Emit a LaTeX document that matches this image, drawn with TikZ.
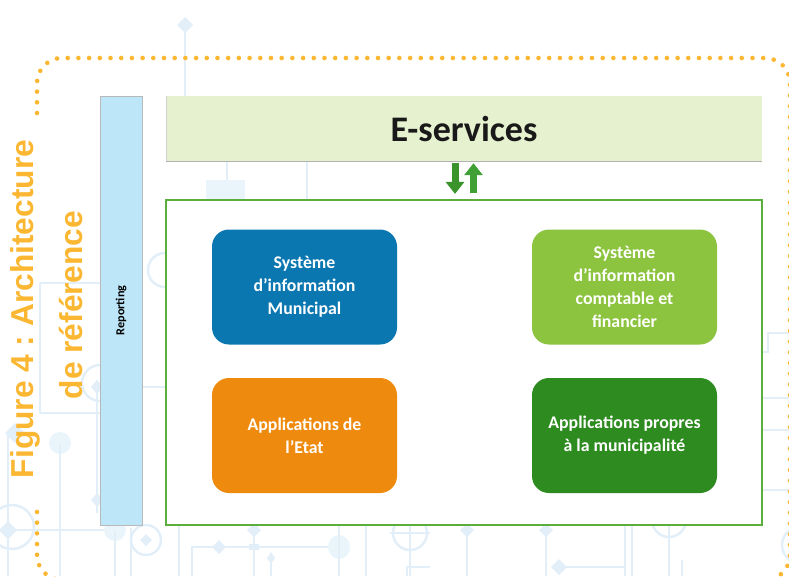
\documentclass[tikz,border=0pt]{standalone}
\usepackage{fontspec}
\setmainfont{Carlito}
\newfontfamily\titlefont{Liberation Sans}
\usetikzlibrary{arrows.meta}
\frenchspacing
\definecolor{titleorange}{HTML}{FBB731}
\definecolor{bgline}{HTML}{E2EFF9}
\definecolor{bgfill}{HTML}{EAF4FB}
\definecolor{repblue}{HTML}{BDE7F8}
\definecolor{eservgreen}{HTML}{E6F2CF}
\definecolor{framegreen}{HTML}{5CAE3C}
\definecolor{boxblue}{HTML}{0B77B1}
\definecolor{boxlight}{HTML}{8CC43F}
\definecolor{boxorange}{HTML}{EE8A0D}
\definecolor{boxdark}{HTML}{2E8B20}
\definecolor{arrowdown}{HTML}{3B932B}
\definecolor{arrowup}{HTML}{41A035}
\tikzset{
  circ/.style={draw=bgline, line width=2.5pt},
  circfill/.style={fill=bgfill},
  diam/.style={fill=bgline},
  appbox/.style={rounded corners=17pt, minimum width=185pt, minimum height=115pt,
    inner sep=0pt, text=white, align=center,
    font=\fontsize{17.8}{23}\selectfont\bfseries},
  dotborder/.style={draw=titleorange, line width=4.6pt, line cap=round,
    dash pattern=on 0pt off 10.7pt, rounded corners=25pt},
  blockarrow/.style={line width=7pt, -{Triangle[width=18pt,length=12pt]}},
}
\begin{document}
\begin{tikzpicture}[x=1pt,y=-1pt]
\useasboundingbox (0,0) rectangle (789,576);
\begin{scope}
\clip (0,0) rectangle (789,576);
% faint circuit background
\draw[circ] (185,30) -- (185,96);
\fill[diam] (185,17) -- (193,25) -- (185,33) -- (177,25) -- cycle;
\draw[circ] (227,161) -- (227,180);
\fill[circfill] (206,180) rectangle (245,199);
\draw[circ] (307,161) -- (307,200);
\draw[circ] (165,270) circle (17);
\draw[circ] (40,283) -- (40,413);
\draw[circ] (40,283) -- (100,283);
\draw[circ] (40,413) -- (100,413);
\draw[circ] (100,383) circle (18);
\draw[circ] (97,380) -- (97,513);
\fill[diam] (97,380) -- (103,387) -- (97,394) -- (91,387) -- cycle;
\fill[diam] (97,493) -- (103,500) -- (97,507) -- (91,500) -- cycle;
\draw[circ] (8,433) -- (8,576);
\fill[diam] (15,423) -- (25,433) -- (15,443) -- (5,433) -- cycle;
\fill[circfill] (60,443) circle (11);
\draw[circ] (60,443) -- (60,576);
\draw[circ] (12,527) circle (22);
\draw[circ] (0,530) -- (110,530);
\fill[diam] (8,521) -- (17,530) -- (8,539) -- (-1,530) -- cycle;
\fill[circfill] (115,530) circle (11);
\draw[circ] (115,530) -- (115,576);
\draw[circ] (131,528) -- (131,576);
\draw[circ] (146,540) circle (15);
\fill[diam] (146,534) -- (152,540) -- (146,546) -- (140,540) -- cycle;
\draw[circ] (142,387) -- (166,387);
\draw[circ] (179,525) -- (179,576);
\draw[circ] (192,576) -- (192,547) -- (339,547);
\fill[diam] (219,540) -- (226,547) -- (219,554) -- (212,547) -- cycle;
\draw[circ] (254,525) -- (254,576);
\fill[diam] (254,523) -- (261,530) -- (254,537) -- (247,530) -- cycle;
\fill[diam] (249,544) rectangle (259,550);
\draw[circ] (271,558) -- (271,576);
\fill[diam] (271,552) -- (275,558) -- (271,564) -- (267,558) -- cycle;
\fill[circfill] (339,547) ellipse (11 and 12);
\draw[circ] (339,525) -- (339,576);
\draw[circ] (366,525) -- (366,576);
\draw[circ] (410,533) circle (17);
\draw[circ] (410,525) -- (410,576);
\draw[circ] (390,533) -- (430,533);
\draw[circ] (407,576) -- (407,567) -- (430,567);
\draw[circ] (467,525) -- (467,576);
\fill[diam] (467,524) -- (474,530) -- (467,537) -- (460,530) -- cycle;
\draw[circ] (546,525) -- (546,576);
\fill[diam] (546,524) -- (553,530) -- (546,537) -- (539,530) -- cycle;
\draw[circ] (559,567) -- (625,567);
\fill[diam] (559,559) -- (567,567) -- (559,575) -- (551,567) -- cycle;
\draw[circ] (625,525) -- (625,576);
\draw[circ] (632,525) -- (632,576);
\draw[circ] (669,520) circle (17);
\draw[circ] (669,525) -- (669,576);
\draw[circ] (682,560) -- (682,576);
\draw[circ] (800,545) circle (18);
\draw[circ] (762,398) -- (789,398);
\draw[circ] (762,430) -- (789,430);
\draw[circ] (762,490) -- (789,490);
\draw[circ] (762,352) -- (768,352) -- (768,333) -- (789,333);
% dotted rounded border
\draw[dotborder] (37,113) -- (37,58) -- (790,58) -- (790,580) -- (37,580) -- (37,503);
\end{scope}

% title
\node[rotate=90, anchor=base, text=titleorange,
  font=\titlefont\fontsize{31.7}{38}\selectfont\bfseries] (title1) at (33,309) {Figure 4 : Architecture};
\node[rotate=90, anchor=base, text=titleorange,
  font=\titlefont\fontsize{31.7}{38}\selectfont\bfseries] (title2) at (82,305) {de référence};

% reporting bar
\node[rotate=90, fill=repblue, draw=gray!55, line width=0.8pt,
  minimum width=429pt, minimum height=42pt, inner sep=0pt,
  font=\fontsize{12.2}{14}\selectfont\bfseries] (rep) at (121,310.5) {Reporting};

% E-services bar
\node[fill=eservgreen, minimum width=596pt, minimum height=65pt, inner sep=0pt,
  font=\fontsize{36}{40}\selectfont\bfseries, text=black!90] (eserv) at (464,128.5) {E-services};
\draw[gray!60, line width=1.2pt] (eserv.south west) -- (eserv.south east);
\draw[gray!35, line width=0.6pt] (eserv.south west) -- (eserv.north west);

% core frame
\node[draw=framegreen, line width=2.2pt, fill=white, minimum width=596pt,
  minimum height=325pt, inner sep=0pt] (core) at (464,362.5) {};

% exchange arrows
\draw[blockarrow, draw=arrowdown, fill=arrowdown, shorten <=2pt, shorten >=5pt]
  ([xshift=-9pt]eserv.south) -- ([xshift=-9pt]core.north);
\draw[blockarrow, draw=arrowup, fill=arrowup, shorten <=6pt, shorten >=2pt]
  ([xshift=9.5pt]core.north) -- ([xshift=9.5pt]eserv.south);

% application boxes
\node[appbox, fill=boxblue] (sim) at (304.5,287) {Système\\d’information\\Municipal};
\node[appbox, fill=boxlight] (sicf) at (624.5,287) {Système\\d’information\\comptable et\\financier};
\node[appbox, fill=boxorange] (etat) at (304.5,435.5) {Applications de\\l’Etat};
\node[appbox, fill=boxdark] (muni) at (624.5,435.5) {Applications propres\\à la municipalité};
\end{tikzpicture}
\end{document}
